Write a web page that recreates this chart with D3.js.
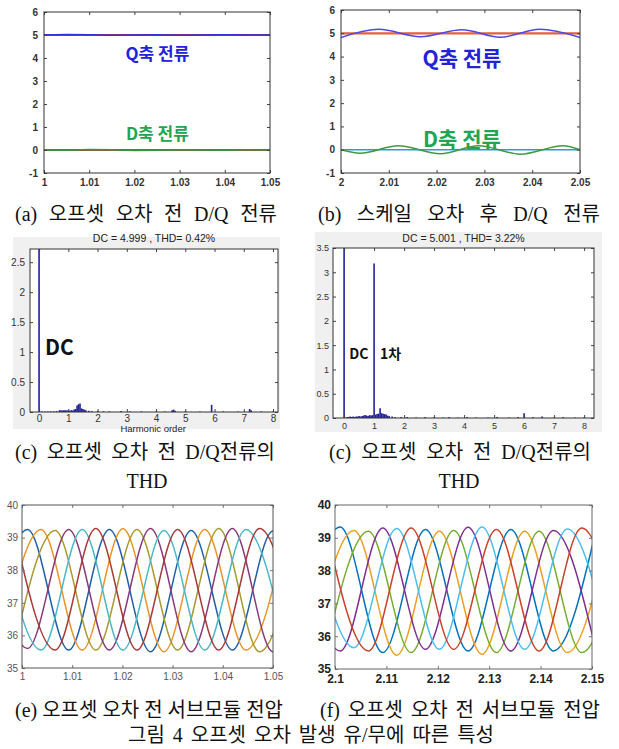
<!DOCTYPE html>
<html>
<head>
<meta charset="utf-8">
<script src="https://cdn.jsdelivr.net/npm/d3@7/dist/d3.min.js"></script>
<style>
  body { margin: 0; background: #fff; }
</style>
</head>
<body>
<div id="chart"></div>
<script>
// ---------- data ----------
// (a) D/Q current before offset error
const aTime = [1.000, 1.005, 1.010, 1.015, 1.020, 1.025, 1.030, 1.035, 1.040, 1.045, 1.050];
const aQ    = [5.00, 5.02, 5.01, 4.99, 5.00, 5.01, 4.99, 5.00, 5.01, 5.00, 5.00];
const aD    = [0.00, -0.01, 0.02, 0.01, -0.02, -0.01, 0.01, 0.00, -0.01, 0.01, 0.00];
const aRefTime = [1.00, 1.05];
const aQRef = [5, 5];
const aDRef = [0, 0];

// (b) D/Q current after scale error (extremes of the ripple)
const bQTime = [2.0000, 2.0079, 2.0166, 2.0253, 2.0333, 2.0416, 2.0500];
const bQ     = [4.82, 5.17, 4.85, 5.15, 4.83, 5.17, 4.82];
const bDTime = [2.0000, 2.0040, 2.0120, 2.0208, 2.0288, 2.0375, 2.0465, 2.0500];
const bD     = [0.00, -0.15, 0.17, -0.17, 0.17, -0.19, 0.17, 0.00];
const bRefTime = [2.00, 2.05];
const bQRef = [5, 5];
const bDRef = [0, 0];

// (c) spectrum, before offset error  [harmonic order, magnitude]
const cSpec = [[0, 5.0], [0.1, .01], [0.2, .01], [0.3, .01], [0.4, .01], [0.5, .01], [0.6, .015],
  [0.7, .03], [0.75, .03], [0.8, .025], [0.85, .03], [0.9, .03], [0.95, .025], [1.0, .03], [1.05, .02],
  [1.1, .03], [1.15, .025], [1.2, .04], [1.25, .05], [1.3, .11], [1.35, .13], [1.4, .14], [1.45, .06],
  [1.5, .05], [1.55, .04], [1.6, .03], [1.7, .02], [1.8, .015], [2.0, .015], [2.2, .01], [2.4, .01],
  [2.8, .015], [3.1, .01], [3.5, .01], [4.0, .01], [4.3, .01], [4.55, .03], [4.6, .04], [4.65, .02],
  [5.0, .01], [5.5, .01], [5.9, .12], [6.3, .01], [6.8, .01], [7.2, .05], [7.25, .03], [7.6, .01], [8.0, .01]];
const cTitle = 'DC = 4.999 , THD= 0.42%';

// (d) spectrum, second case
const dSpec = [[0, 5.0], [0.1, .02], [0.15, .02], [0.2, .03], [0.25, .02], [0.3, .03], [0.35, .02],
  [0.4, .03], [0.45, .03], [0.5, .04], [0.55, .03], [0.6, .04], [0.65, .05], [0.7, .06], [0.75, .05],
  [0.8, .04], [0.85, .06], [0.9, .05], [0.95, .06], [1.0, 3.18], [1.05, .07], [1.1, .08], [1.15, .09],
  [1.2, .20], [1.25, .10], [1.3, .09], [1.35, .08], [1.4, .07], [1.45, .05], [1.5, .04], [1.6, .03],
  [1.7, .02], [1.9, .02], [2.1, .02], [2.4, .01], [2.7, .02], [3.0, .02], [3.3, .01], [3.5, .02],
  [3.8, .01], [4.1, .02], [4.4, .01], [4.8, .01], [5.1, .02], [5.5, .01], [5.8, .02], [6.0, .10],
  [6.3, .02], [6.6, .03], [7.0, .01], [7.3, .02], [7.7, .01], [8.0, .01]];
const dTitle = 'DC = 5.001 , THD= 3.22%';

// (e) sub-module voltages, peaks / troughs  [time, voltage]
const eBlue   = [[0.9930, 35.60], [1.0011, 39.25], [1.0093, 35.55], [1.0174, 39.25], [1.0256, 35.50], [1.0337, 39.22], [1.0419, 35.55], [1.0500, 39.20], [1.0582, 35.60]];
const eOrange = [[0.9957, 35.60], [1.0038, 39.25], [1.0120, 35.55], [1.0201, 39.27], [1.0283, 35.50], [1.0364, 39.25], [1.0446, 35.55], [1.0527, 39.20]];
const eOlive  = [[0.9984, 35.60], [1.0066, 39.22], [1.0147, 35.55], [1.0229, 39.25], [1.0310, 35.55], [1.0392, 39.28], [1.0473, 35.50], [1.0555, 39.20]];
const ePurple = [[0.9930, 39.20], [1.0011, 35.60], [1.0093, 39.25], [1.0174, 35.55], [1.0256, 39.28], [1.0337, 35.50], [1.0419, 39.28], [1.0500, 35.50], [1.0582, 39.20]];
const eCyan   = [[0.9957, 39.20], [1.0038, 35.55], [1.0120, 39.25], [1.0201, 35.55], [1.0283, 39.22], [1.0364, 35.55], [1.0446, 39.25], [1.0527, 35.60]];
const eRed    = [[0.9984, 39.25], [1.0066, 35.55], [1.0147, 39.28], [1.0229, 35.55], [1.0310, 39.25], [1.0392, 35.55], [1.0473, 39.28], [1.0555, 35.50]];

// (f) sub-module voltages
const fBlue   = [[2.0927, 35.60], [2.1010, 39.33], [2.1093, 35.50], [2.1176, 39.25], [2.1259, 35.55], [2.1342, 39.25], [2.1425, 35.55], [2.1508, 39.25]];
const fOrange = [[2.0954, 35.60], [2.1037, 39.22], [2.1120, 35.42], [2.1203, 39.20], [2.1286, 35.45], [2.1369, 39.20], [2.1452, 35.50], [2.1535, 39.30]];
const fGreen  = [[2.0982, 35.60], [2.1065, 39.20], [2.1148, 35.50], [2.1231, 39.22], [2.1314, 35.50], [2.1397, 39.20], [2.1480, 35.50], [2.1563, 39.20]];
const fPurple = [[2.0927, 39.20], [2.1010, 35.55], [2.1093, 39.30], [2.1176, 35.60], [2.1259, 39.32], [2.1342, 35.55], [2.1425, 39.22], [2.1508, 35.55]];
const fCyan   = [[2.0954, 39.20], [2.1037, 35.65], [2.1120, 39.28], [2.1203, 35.60], [2.1286, 39.33], [2.1369, 35.60], [2.1452, 39.27], [2.1535, 35.60]];
const fRed    = [[2.0982, 39.30], [2.1065, 35.55], [2.1148, 39.30], [2.1231, 35.60], [2.1314, 39.25], [2.1397, 35.55], [2.1480, 39.30], [2.1563, 35.55]];

// ticks
const abYTicks = [-1, 0, 1, 2, 3, 4, 5, 6];
const aXTicks = [1, 1.01, 1.02, 1.03, 1.04, 1.05];
const aXLabels = ['1', '1.01', '1.02', '1.03', '1.04', '1.05'];
const bXTicks = [2, 2.01, 2.02, 2.03, 2.04, 2.05];
const bXLabels = ['2', '2.01', '2.02', '2.03', '2.04', '2.05'];
const cYTicks = [0, 0.5, 1, 1.5, 2, 2.5];
const dYTicks = [0, 0.5, 1, 1.5, 2, 2.5, 3, 3.5];
const hXTicks = [0, 1, 2, 3, 4, 5, 6, 7, 8];
const efYTicks = [35, 36, 37, 38, 39, 40];
const eXTicks = [1, 1.01, 1.02, 1.03, 1.04, 1.05];
const eXLabels = ['1', '1.01', '1.02', '1.03', '1.04', '1.05'];
const fXTicks = [2.1, 2.11, 2.12, 2.13, 2.14, 2.15];
const fXLabels = ['2.1', '2.11', '2.12', '2.13', '2.14', '2.15'];

// captions
const capA = '(a) 오프셋 오차 전 D/Q 전류';
const capB = '(b) 스케일 오차 후 D/Q 전류';
const capC = '(c) 오프셋 오차 전 D/Q전류의';
const capD = '(c) 오프셋 오차 전 D/Q전류의';
const capTHD = 'THD';
const capE = '(e) 오프셋 오차 전 서브모듈 전압';
const capF = '(f) 오프셋 오차 전 서브모듈 전압';
const capFig = '그림 4 오프셋 오차 발생 유/무에 따른 특성';

// ---------- drawing ----------
const W = 619, H = 749;
const svg = d3.select('#chart').append('svg')
  .attr('width', W).attr('height', H)
  .style('font-family', '"Liberation Sans", Arial, sans-serif');

svg.append('rect').attr('width', W).attr('height', H).attr('fill', '#fff');

function makePanel(id, box, xDom, yDom) {
  const x = d3.scaleLinear().domain(xDom).range([box.x0, box.x1]);
  const y = d3.scaleLinear().domain(yDom).range([box.y1, box.y0]);
  svg.append('clipPath').attr('id', id).append('rect')
    .attr('x', box.x0).attr('y', box.y0)
    .attr('width', box.x1 - box.x0).attr('height', box.y1 - box.y0);
  const g = svg.append('g');
  g.append('rect')
    .attr('x', box.x0).attr('y', box.y0)
    .attr('width', box.x1 - box.x0).attr('height', box.y1 - box.y0)
    .attr('fill', '#fff');
  const plot = g.append('g').attr('clip-path', 'url(#' + id + ')');
  return { x, y, g, plot, box };
}

function drawAxes(p, xTicks, xLabels, yTicks, yLabels, st) {
  const b = p.box;
  const ax = p.g.append('g');
  const tl = st.tick || 3;

  ax.append('g').attr('transform', 'translate(0,' + b.y1 + ')')
    .call(d3.axisBottom(p.x).tickValues(xTicks).tickFormat((d, i) => xLabels[i])
      .tickSizeInner(-tl).tickSizeOuter(0).tickPadding(st.xpad));
  ax.append('g').attr('transform', 'translate(0,' + b.y0 + ')')
    .call(d3.axisTop(p.x).tickValues(xTicks).tickFormat('').tickSizeInner(-tl).tickSizeOuter(0));
  ax.append('g').attr('transform', 'translate(' + b.x0 + ',0)')
    .call(d3.axisLeft(p.y).tickValues(yTicks).tickFormat((d, i) => yLabels[i])
      .tickSizeInner(-tl).tickSizeOuter(0).tickPadding(st.ypad));
  ax.append('g').attr('transform', 'translate(' + b.x1 + ',0)')
    .call(d3.axisRight(p.y).tickValues(yTicks).tickFormat('').tickSizeInner(-tl).tickSizeOuter(0));

  ax.selectAll('.domain').remove();
  ax.selectAll('.tick line').attr('stroke', st.tickColor || '#444');
  ax.selectAll('.tick text')
    .attr('fill', st.color)
    .style('font-size', st.size + 'px')
    .style('font-weight', st.weight || 'normal')
    .style('font-family', '"Liberation Sans", Arial, sans-serif');

  p.g.append('rect')
    .attr('x', b.x0).attr('y', b.y0)
    .attr('width', b.x1 - b.x0).attr('height', b.y1 - b.y0)
    .attr('fill', 'none').attr('stroke', st.frame || '#333').attr('stroke-width', 1);
  return ax;
}

function drawSeries(p, xs, ys, color, width, curve) {
  const pts = xs.map((t, i) => [t, ys[i]]);
  p.plot.append('path').datum(pts)
    .attr('d', d3.line().x(d => p.x(d[0])).y(d => p.y(d[1])).curve(curve || d3.curveLinear))
    .attr('fill', 'none').attr('stroke', color).attr('stroke-width', width);
}

function drawWave(p, pts, color) {
  p.plot.append('path').datum(pts)
    .attr('d', d3.line().x(d => p.x(d[0])).y(d => p.y(d[1])).curve(d3.curveMonotoneX))
    .attr('fill', 'none').attr('stroke', color).attr('stroke-width', 1.5);
}

function drawStems(p, spec, color) {
  p.plot.selectAll(null).data(spec).enter().append('line')
    .attr('x1', d => p.x(d[0])).attr('x2', d => p.x(d[0]))
    .attr('y1', p.y(0)).attr('y2', d => p.y(d[1]))
    .attr('stroke', color).attr('stroke-width', 1.6);
}

function label(p, t, v, text, color, size, anchor) {
  p.g.append('text')
    .attr('x', p.x(t)).attr('y', p.y(v))
    .attr('text-anchor', anchor || 'middle')
    .attr('dominant-baseline', 'central')
    .attr('fill', color)
    .style('font-family', '"Noto Sans CJK KR", "Liberation Sans", sans-serif')
    .style('font-weight', 'bold')
    .style('font-size', size + 'px')
    .text(text);
}

const fmt = d => String(d);

// ----- (a)
const pa = makePanel('clipA', { x0: 44, x1: 270, y0: 12, y1: 173 }, [1, 1.05], [-1, 6]);
drawSeries(pa, aRefTime, aQRef, '#d03030', 2);
drawSeries(pa, aTime, aQ, '#3030e0', 1.4);
drawSeries(pa, aRefTime, aDRef, '#c04040', 2);
drawSeries(pa, aTime, aD, '#2f9a40', 1.4);
drawAxes(pa, aXTicks, aXLabels, abYTicks, abYTicks.map(fmt),
  { xpad: 6, ypad: 6, size: 10, color: '#333', weight: 'bold' });
label(pa, 1.0251, 4.26, 'Q축 전류', '#2222d8', 17);
label(pa, 1.0251, 0.74, 'D축 전류', '#22a552', 17);

// ----- (b)
const pb = makePanel('clipB', { x0: 341, x1: 580, y0: 10, y1: 173 }, [2, 2.05], [-1, 6]);
drawSeries(pb, bRefTime, bQRef, '#e0603a', 2.2);
drawSeries(pb, bQTime, bQ, '#4a4af0', 1.5, d3.curveMonotoneX);
drawSeries(pb, bRefTime, bDRef, '#2a9ad8', 1.6);
drawSeries(pb, bDTime, bD, '#3f9a3f', 1.5, d3.curveMonotoneX);
drawAxes(pb, bXTicks, bXLabels, abYTicks, abYTicks.map(fmt),
  { xpad: 6, ypad: 6, size: 10, color: '#333', weight: 'bold' });
label(pb, 2.0253, 3.98, 'Q축 전류', '#2222d8', 21);
label(pb, 2.0253, 0.52, 'D축 전류', '#22a552', 21);

// ----- (c)
svg.append('rect').attr('x', 13).attr('y', 237).attr('width', 267).attr('height', 192).attr('fill', '#f0f0f0');
const pc = makePanel('clipC', { x0: 30, x1: 278, y0: 249, y1: 412 }, [-0.31, 8.17], [0, 2.72]);
drawStems(pc, cSpec, '#20209a');
drawAxes(pc, hXTicks, hXTicks.map(fmt), cYTicks, cYTicks.map(fmt),
  { xpad: 3, ypad: 5, size: 10, color: '#333' });
pc.g.append('text').attr('x', (pc.box.x0 + pc.box.x1) / 2).attr('y', pc.box.y0 - 7)
  .attr('text-anchor', 'middle').attr('fill', '#222').style('font-size', '10.5px').text(cTitle);
// the axis title sits low, just under the tick labels
pc.g.append('text').attr('x', pc.x(3.9)).attr('y', 432)
  .attr('text-anchor', 'middle').attr('fill', '#222').style('font-size', '9.5px').text('Harmonic order');
label(pc, 0.2, 1.1, 'DC', '#111', 21, 'start');

// ----- (d)
svg.append('rect').attr('x', 315).attr('y', 232).attr('width', 287).attr('height', 200).attr('fill', '#f0f0f0');
const pd = makePanel('clipD', { x0: 333, x1: 594, y0: 248, y1: 418 }, [-0.37, 8.33], [0, 3.5]);
drawStems(pd, dSpec, '#20209a');
drawAxes(pd, hXTicks, hXTicks.map(fmt), dYTicks, dYTicks.map(fmt),
  { xpad: 5, ypad: 4, size: 9, color: '#333' });
pd.g.append('text').attr('x', (pd.box.x0 + pd.box.x1) / 2).attr('y', pd.box.y0 - 6)
  .attr('text-anchor', 'middle').attr('fill', '#222').style('font-size', '10.5px').text(dTitle);
label(pd, 0.17, 1.34, 'DC', '#111', 14, 'start');
label(pd, 1.2, 1.34, '1차', '#111', 14, 'start');

// ----- (e)
const eColors = ['#2060a8', '#e8952a', '#a89a30', '#8a3a7a', '#4ab8c8', '#a83a3a'];
const pe = makePanel('clipE', { x0: 22, x1: 273, y0: 505, y1: 668 }, [1, 1.05], [35, 40]);
[eBlue, eOrange, eOlive, ePurple, eCyan, eRed].forEach((s, i) => drawWave(pe, s, eColors[i]));
drawAxes(pe, eXTicks, eXLabels, efYTicks, efYTicks.map(fmt),
  { xpad: 5, ypad: 4, size: 10, color: '#555', tickColor: '#777', frame: '#555' });

// ----- (f)
const fColors = ['#0072bd', '#eda020', '#77ac30', '#7e2f8e', '#4dbeee', '#c8432a'];
const pf = makePanel('clipF', { x0: 335, x1: 592, y0: 505, y1: 669 }, [2.1, 2.15], [35, 40]);
[fBlue, fOrange, fGreen, fPurple, fCyan, fRed].forEach((s, i) => drawWave(pf, s, fColors[i]));
drawAxes(pf, fXTicks, fXLabels, efYTicks, efYTicks.map(fmt),
  { xpad: 5, ypad: 4, size: 12, color: '#222', weight: 'bold', tickColor: '#777', frame: '#666' });

// ----- captions (widen the gaps between words to the measured line width)
const capFont = '"Liberation Serif", "Noto Sans CJK KR", serif';
function caption(x, y, text, len) {
  const t = svg.append('text').attr('x', x).attr('y', y)
    .attr('text-anchor', 'middle').attr('dominant-baseline', 'central')
    .attr('fill', '#111')
    .style('font-family', capFont).style('font-size', '20px')
    .text(text);
  if (len) {
    const gaps = text.split(' ').length - 1;
    const extra = len - t.node().getComputedTextLength();
    if (gaps > 0 && extra > 0) t.style('word-spacing', (extra / gaps) + 'px');
  }
}
caption(146, 214, capA, 262);
caption(459, 214, capB, 282);
caption(145, 452, capC, 260);
caption(460, 452, capD, 262);
caption(147, 481, capTHD);
caption(459, 481, capTHD);
caption(149, 710, capE, 268);
caption(460, 710, capF, 280);
caption(311, 735, capFig, 366);
</script>
</body>
</html>
